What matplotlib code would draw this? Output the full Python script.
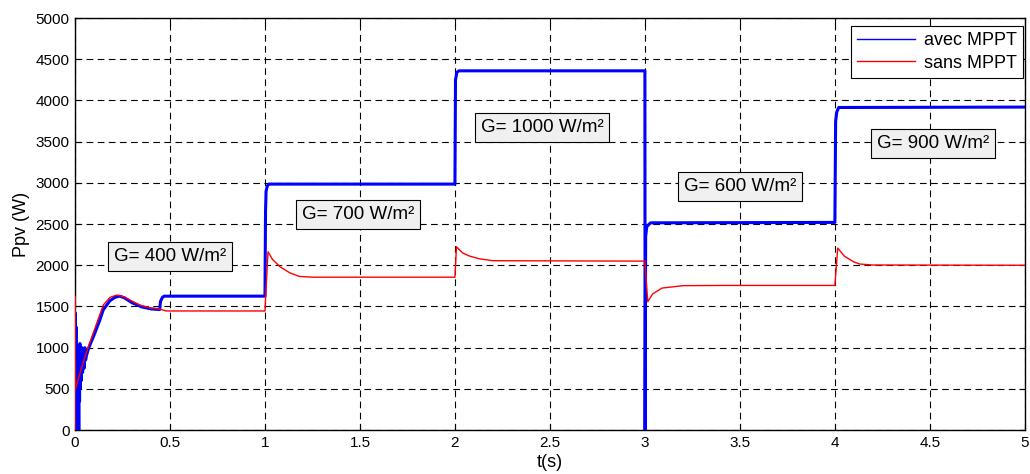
import matplotlib
matplotlib.use("Agg")
import matplotlib.pyplot as plt

plt.rcParams['font.family'] = ['Liberation Sans', 'DejaVu Sans']

# PV power with MPPT (W)
t_avec = [0.0, 0.002, 0.004, 0.006, 0.008, 0.010, 0.012, 0.014, 0.016, 0.018,
          0.020, 0.022, 0.024, 0.026, 0.028, 0.030, 0.033, 0.036, 0.040, 0.044,
          0.048, 0.052, 0.056, 0.060, 0.070, 0.080, 0.100, 0.130, 0.149, 0.184,
          0.210, 0.235, 0.260, 0.300, 0.350, 0.400, 0.446,
          0.450, 0.460, 0.470, 1.000,
          1.003, 1.006, 1.012, 1.020, 2.000,
          2.003, 2.010, 2.020, 3.000,
          3.001, 3.004, 3.010, 3.030, 4.000,
          4.004, 4.010, 4.020, 5.000]
p_avec = [0, 1420, 300, 1250, 100, 850, 0, 700, 50, 600,
          0, 900, 350, 1050, 500, 950, 600, 1000, 700, 950,
          750, 1000, 850, 900, 980, 1040, 1150, 1330, 1460, 1570,
          1610, 1625, 1605, 1545, 1495, 1470, 1462,
          1560, 1610, 1625, 1625,
          2650, 2900, 2960, 2985, 2985,
          4250, 4340, 4360, 4360,
          0, 2350, 2470, 2515, 2520,
          3750, 3860, 3915, 3920]

# PV power without MPPT (W)
t_sans = [0.0, 0.0, 0.003, 0.030, 0.061, 0.096, 0.149, 0.184, 0.220, 0.260,
          0.300, 0.342, 0.400, 0.447, 0.480, 1.000,
          1.000, 1.016, 1.040, 1.079, 1.130, 1.180, 1.250, 2.000,
          2.000, 2.008, 2.040, 2.076, 2.130, 2.200, 3.000,
          3.000, 3.015, 3.040, 3.090, 3.200, 3.400, 4.000,
          4.000, 4.015, 4.050, 4.100, 4.130, 4.200, 5.000]
p_sans = [0, 1620, 500, 720, 950, 1177, 1517, 1610, 1638, 1615,
          1565, 1517, 1480, 1468, 1445, 1445,
          1445, 2164, 2070, 1982, 1909, 1865, 1855, 1855,
          1855, 2225, 2150, 2112, 2078, 2055, 2050,
          2050, 1557, 1650, 1723, 1752, 1755, 1755,
          1755, 2208, 2110, 2040, 2015, 2003, 2000]

# Irradiance labels and where they sit (t, P)
g_labels = ['G= 400 W/m²', 'G= 700 W/m²', 'G= 1000 W/m²', 'G= 600 W/m²', 'G= 900 W/m²']
g_t = [0.50, 1.49, 2.458, 3.50, 4.515]
g_p = [2112, 2621, 3677, 2961, 3483]

x_ticks = [0, 0.5, 1, 1.5, 2, 2.5, 3, 3.5, 4, 4.5, 5]
x_ticklabels = ['0', '0.5', '1', '1.5', '2', '2.5', '3', '3.5', '4', '4.5', '5']
y_ticks = list(range(0, 5001, 500))

fig = plt.figure(figsize=(10.30, 4.74), dpi=100)
ax = fig.add_axes([0.0728, 0.0928, 0.9222, 0.869])

ax.plot(t_avec, p_avec, color='#0000ff', linewidth=2.2, label='avec MPPT', zorder=3)
ax.plot(t_sans, p_sans, color='#ff0000', linewidth=1.0, label='sans MPPT', zorder=4)

for txt, tx, py in zip(g_labels, g_t, g_p):
    ax.text(tx, py, txt, ha='center', va='center', fontsize=13.5, zorder=6,
            bbox=dict(boxstyle='square,pad=0.32', facecolor='#f0f0f0',
                      edgecolor='black', linewidth=0.8))

ax.set_xlim(0, 5)
ax.set_ylim(0, 5000)
ax.set_xticks(x_ticks)
ax.set_xticklabels(x_ticklabels)
ax.set_yticks(y_ticks)
ax.tick_params(direction='in', top=True, right=True, labelsize=11, length=4,
               width=0.8, colors='black', pad=4)
ax.grid(True, color='black', linestyle=(0, (6, 4)), linewidth=0.8)
for s in ax.spines.values():
    s.set_linewidth(1.0)
    s.set_color('black')

ax.set_xlabel('t(s)', fontsize=13, labelpad=3)
ax.set_ylabel('Ppv (W)', fontsize=13, labelpad=4)

leg = ax.legend(loc='upper right', bbox_to_anchor=(0.998, 0.981), borderaxespad=0,
                fontsize=13, fancybox=False, framealpha=1, edgecolor='black',
                handlelength=3.2, handletextpad=0.5, borderpad=0.35, labelspacing=0.3)
leg.get_frame().set_linewidth(0.8)
for h in leg.legend_handles:
    h.set_linewidth(1.0)
leg.set_zorder(10)

fig.savefig('out.png', dpi=100)
